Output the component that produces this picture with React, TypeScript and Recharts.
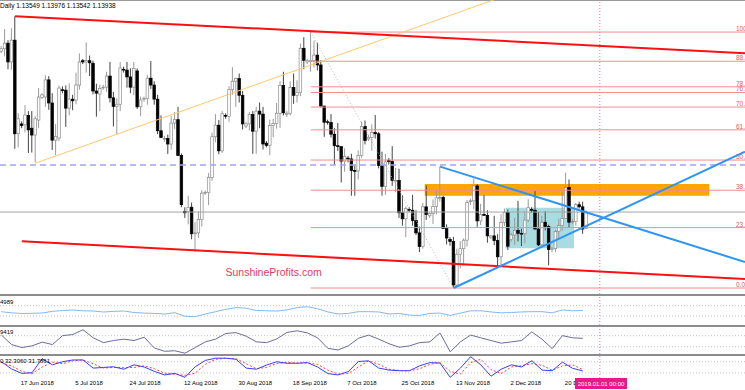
import React from 'react';
import { ComposedChart, LineChart, Line, Bar, XAxis, YAxis, ReferenceLine, ReferenceArea } from 'recharts';

// daily EURUSD bars, 8 Jun 2018 .. 27 Dec 2018 (sunday bars included), bar index = position in arrays
const opens = [
  1.1775, 1.1770, 1.1776, 1.1789, 1.1745, 1.1796, 1.1577, 1.1600, 1.1598, 1.1620, 1.1590, 1.1574, 1.1609, 1.1662, 1.1663, 1.1703,
  1.1649, 1.1562, 1.1567, 1.1680, 1.1679, 1.1637, 1.1658, 1.1656, 1.1691, 1.1748, 1.1745, 1.1748, 1.1742, 1.1677, 1.1670, 1.1686,
  1.1686, 1.1712, 1.1661, 1.1641, 1.1646, 1.1728, 1.1726, 1.1710, 1.1686, 1.1724, 1.1640, 1.1658, 1.1660, 1.1707, 1.1691, 1.1658,
  1.1584, 1.1565, 1.1566, 1.1553, 1.1602, 1.1610, 1.1526, 1.1395, 1.1395, 1.1405, 1.1343, 1.1345, 1.1376, 1.1440, 1.1440, 1.1475,
  1.1570, 1.1597, 1.1537, 1.1620, 1.1618, 1.1680, 1.1700, 1.1706, 1.1667, 1.1595, 1.1600, 1.1622, 1.1583, 1.1630, 1.1623, 1.1555,
  1.1550, 1.1596, 1.1601, 1.1625, 1.1690, 1.1622, 1.1625, 1.1685, 1.1667, 1.1674, 1.1777, 1.1745, 1.1748, 1.1748, 1.1761, 1.1738,
  1.1642, 1.1605, 1.1603, 1.1576, 1.1549, 1.1547, 1.1513, 1.1520, 1.1518, 1.1491, 1.1490, 1.1526, 1.1594, 1.1565, 1.1568, 1.1580,
  1.1577, 1.1503, 1.1454, 1.1515, 1.1512, 1.1468, 1.1468, 1.1392, 1.1378, 1.1400, 1.1398, 1.1374, 1.1345, 1.1313, 1.1406, 1.1385,
  1.1390, 1.1407, 1.1427, 1.1428, 1.1355, 1.1330, 1.1325, 1.1223, 1.1295, 1.1308, 1.1328, 1.1418, 1.1420, 1.1455, 1.1373, 1.1388,
  1.1386, 1.1335, 1.1338, 1.1327, 1.1289, 1.1369, 1.1393, 1.1330, 1.1340, 1.1351, 1.1344, 1.1343, 1.1375, 1.1400, 1.1398, 1.1354,
  1.1317, 1.1370, 1.1360, 1.1306, 1.1308, 1.1348, 1.1362, 1.1379, 1.1451, 1.1370, 1.1372, 1.1411, 1.1406, 1.1355,
];
const highs = [
  1.1812, 1.1782, 1.1822, 1.1796, 1.1824, 1.1852, 1.1625, 1.1606, 1.1644, 1.1630, 1.1630, 1.1618, 1.1684, 1.1672, 1.1714, 1.1712,
  1.1672, 1.1600, 1.1690, 1.1688, 1.1690, 1.1695, 1.1668, 1.1720, 1.1765, 1.1752, 1.1791, 1.1760, 1.1748, 1.1694, 1.1692, 1.1692,
  1.1722, 1.1745, 1.1675, 1.1660, 1.1745, 1.1734, 1.1745, 1.1730, 1.1745, 1.1730, 1.1664, 1.1664, 1.1715, 1.1747, 1.1700, 1.1668,
  1.1620, 1.1572, 1.1575, 1.1618, 1.1628, 1.1640, 1.1531, 1.1405, 1.1432, 1.1416, 1.1370, 1.1395, 1.1445, 1.1444, 1.1485, 1.1580,
  1.1623, 1.1609, 1.1630, 1.1625, 1.1688, 1.1733, 1.1708, 1.1718, 1.1677, 1.1605, 1.1628, 1.1630, 1.1640, 1.1650, 1.1640, 1.1560,
  1.1610, 1.1612, 1.1649, 1.1700, 1.1722, 1.1630, 1.1700, 1.1718, 1.1702, 1.1788, 1.1803, 1.1752, 1.1815, 1.1795, 1.1790, 1.1749,
  1.1642, 1.1610, 1.1623, 1.1590, 1.1602, 1.1546, 1.1543, 1.1525, 1.1530, 1.1504, 1.1538, 1.1605, 1.1608, 1.1575, 1.1599, 1.1621,
  1.1581, 1.1535, 1.1530, 1.1520, 1.1548, 1.1497, 1.1495, 1.1433, 1.1407, 1.1405, 1.1434, 1.1398, 1.1360, 1.1415, 1.1456, 1.1392,
  1.1423, 1.1443, 1.1500, 1.1432, 1.1365, 1.1335, 1.1336, 1.1308, 1.1326, 1.1332, 1.1422, 1.1425, 1.1472, 1.1459, 1.1413, 1.1433,
  1.1398, 1.1340, 1.1385, 1.1342, 1.1389, 1.1402, 1.1400, 1.1345, 1.1380, 1.1420, 1.1355, 1.1396, 1.1424, 1.1405, 1.1443, 1.1394,
  1.1385, 1.1396, 1.1364, 1.1312, 1.1352, 1.1378, 1.1439, 1.1486, 1.1470, 1.1378, 1.1415, 1.1418, 1.1418, 1.1398,
];
const lows = [
  1.1730, 1.1766, 1.1758, 1.1728, 1.1727, 1.1542, 1.1545, 1.1590, 1.1580, 1.1532, 1.1533, 1.1510, 1.1590, 1.1658, 1.1640, 1.1633,
  1.1539, 1.1527, 1.1560, 1.1672, 1.1593, 1.1620, 1.1632, 1.1646, 1.1680, 1.1740, 1.1720, 1.1712, 1.1669, 1.1617, 1.1630, 1.1680,
  1.1675, 1.1650, 1.1594, 1.1575, 1.1630, 1.1720, 1.1685, 1.1672, 1.1667, 1.1635, 1.1618, 1.1652, 1.1645, 1.1682, 1.1645, 1.1576,
  1.1567, 1.1558, 1.1530, 1.1540, 1.1588, 1.1525, 1.1405, 1.1380, 1.1365, 1.1330, 1.1301, 1.1333, 1.1360, 1.1434, 1.1410, 1.1467,
  1.1557, 1.1529, 1.1532, 1.1612, 1.1605, 1.1668, 1.1640, 1.1650, 1.1587, 1.1590, 1.1585, 1.1530, 1.1530, 1.1590, 1.1540, 1.1545,
  1.1527, 1.1569, 1.1589, 1.1591, 1.1620, 1.1616, 1.1620, 1.1647, 1.1650, 1.1665, 1.1728, 1.1740, 1.1722, 1.1732, 1.1725, 1.1639,
  1.1570, 1.1598, 1.1568, 1.1505, 1.1537, 1.1463, 1.1488, 1.1510, 1.1432, 1.1432, 1.1470, 1.1520, 1.1552, 1.1560, 1.1537, 1.1566,
  1.1496, 1.1432, 1.1434, 1.1505, 1.1455, 1.1440, 1.1380, 1.1362, 1.1335, 1.1393, 1.1362, 1.1340, 1.1300, 1.1308, 1.1375, 1.1380,
  1.1366, 1.1388, 1.1418, 1.1355, 1.1318, 1.1315, 1.1216, 1.1220, 1.1262, 1.1269, 1.1313, 1.1410, 1.1400, 1.1359, 1.1363, 1.1385,
  1.1322, 1.1330, 1.1316, 1.1267, 1.1268, 1.1361, 1.1305, 1.1325, 1.1317, 1.1325, 1.1314, 1.1321, 1.1370, 1.1392, 1.1353, 1.1314,
  1.1310, 1.1351, 1.1269, 1.1300, 1.1300, 1.1330, 1.1350, 1.1378, 1.1357, 1.1365, 1.1362, 1.1402, 1.1343, 1.1354,
];
const closes = [
  1.1770, 1.1776, 1.1789, 1.1745, 1.1796, 1.1577, 1.1612, 1.1596, 1.1621, 1.1586, 1.1574, 1.1612, 1.1663, 1.1668, 1.1703, 1.1649,
  1.1562, 1.1571, 1.1684, 1.1678, 1.1637, 1.1658, 1.1654, 1.1691, 1.1745, 1.1745, 1.1748, 1.1743, 1.1677, 1.1672, 1.1683, 1.1686,
  1.1712, 1.1661, 1.1641, 1.1646, 1.1731, 1.1726, 1.1710, 1.1686, 1.1730, 1.1640, 1.1656, 1.1660, 1.1707, 1.1691, 1.1658, 1.1584,
  1.1568, 1.1566, 1.1553, 1.1602, 1.1610, 1.1526, 1.1411, 1.1392, 1.1405, 1.1343, 1.1345, 1.1376, 1.1438, 1.1440, 1.1475, 1.1570,
  1.1597, 1.1537, 1.1624, 1.1618, 1.1680, 1.1700, 1.1706, 1.1667, 1.1600, 1.1600, 1.1622, 1.1583, 1.1630, 1.1623, 1.1553, 1.1550,
  1.1596, 1.1601, 1.1625, 1.1690, 1.1626, 1.1625, 1.1685, 1.1667, 1.1674, 1.1777, 1.1749, 1.1748, 1.1748, 1.1761, 1.1738, 1.1642,
  1.1604, 1.1603, 1.1576, 1.1549, 1.1547, 1.1513, 1.1524, 1.1518, 1.1491, 1.1490, 1.1526, 1.1594, 1.1561, 1.1568, 1.1580, 1.1577,
  1.1503, 1.1454, 1.1511, 1.1512, 1.1468, 1.1468, 1.1392, 1.1378, 1.1402, 1.1398, 1.1374, 1.1345, 1.1313, 1.1406, 1.1388, 1.1390,
  1.1407, 1.1427, 1.1428, 1.1355, 1.1333, 1.1325, 1.1223, 1.1295, 1.1308, 1.1328, 1.1416, 1.1420, 1.1455, 1.1373, 1.1388, 1.1386,
  1.1338, 1.1338, 1.1327, 1.1289, 1.1369, 1.1393, 1.1314, 1.1340, 1.1351, 1.1344, 1.1343, 1.1375, 1.1404, 1.1398, 1.1354, 1.1317,
  1.1370, 1.1360, 1.1306, 1.1308, 1.1348, 1.1362, 1.1379, 1.1451, 1.1370, 1.1372, 1.1411, 1.1406, 1.1354, 1.1394,
];

// date labels on the time axis
const tickBars = [7, 23, 39, 55, 71, 87, 103, 119, 135, 151, 167];
const tickLabels = ['17 Jun 2018', '5 Jul 2018', '24 Jul 2018', '12 Aug 2018', '30 Aug 2018', '18 Sep 2018', '7 Oct 2018', '25 Oct 2018', '13 Nov 2018', '2 Dec 2018', '20 Dec 2018'];
const newYearBar = 177;

// fibonacci retracement: 24 Sep high -> 12 Nov low
const fibHigh = { bar: 92, price: 1.1815 };
const fibLow = { bar: 134, price: 1.1216 };
const fibRatios = [0, 23.6, 38.2, 50.0, 61.8, 70.7, 76.4, 78.6, 88.6, 100.0];

// drawn trend lines [start, end] as (bar, price)
const channelTop = [{ bar: 5, price: 1.1852 }, { bar: 219.7, price: 1.17653 }];
const channelBottom = [{ bar: 7, price: 1.13254 }, { bar: 219.7, price: 1.12371 }];
const orangeTrend = [{ bar: 11, price: 1.1508 }, { bar: 219.7, price: 1.21 }];
const blueDown = [{ bar: 130, price: 1.15 }, { bar: 219.7, price: 1.12769 }];
const blueUp = [{ bar: 134, price: 1.1216 }, { bar: 219.7, price: 1.1535 }];
const dashedLevel = 1.15039;
const bidPrice = 1.13938;
const resistanceZone = { x1: 125.5, x2: 209.2, y1: 1.14321, y2: 1.14594 };
const consolidationZone = { x1: 149.3, x2: 169.4, y1: 1.1309, y2: 1.1404 };

// oscillators, sampled every third bar (values on each pane's 0-100 scale)
const sampleBars = [1, 4, 7, 10, 13, 16, 19, 22, 25, 28, 31, 34, 37, 40, 43, 46, 49, 52, 55, 58, 61, 64, 67, 70, 73, 76, 79, 82, 85, 88, 91, 94, 97, 100, 103, 106, 109, 112, 115, 118, 121, 124, 127, 130, 133, 136, 139, 142, 145, 148, 151, 154, 157, 160, 163, 166, 169, 172];
const rsiValues = [45.9, 42, 39.7, 40.3, 41.4, 47, 50, 51.7, 49, 48.3, 44.8, 47, 48.3, 43, 41, 40, 37.9, 42.4, 30, 28.6, 38, 46, 54, 60, 58, 50, 49, 48, 52, 60, 63, 56, 45, 38, 40, 46, 46, 45, 38, 40, 34, 33, 40, 41, 33, 41, 49, 49, 45, 42, 43, 45, 46, 46, 42, 52, 49, 50];
const cciValues = [70, 35, 24, 30, 44, 35, 68, 72, 90, 60, 42, 50, 55, 50, 62, 22, 10, 12, 3, 24, 45, 55, 76, 79, 66, 45, 42, 56, 80, 86, 78, 60, 21, 15, 30, 58, 70, 55, 38, 25, 30, 42, 45, 78, 8, 45, 70, 60, 50, 40, 45, 50, 82, 55, 20, 68, 60, 58];
const stochMain = [74, 41, 21, 24, 88, 60, 74, 82, 82, 45, 48, 51, 40, 60, 50, 30, 14, 21, 3, 51, 80, 90, 90, 85, 45, 40, 59, 74, 67, 67, 70, 50, 20, 14, 29, 75, 78, 45, 36, 33, 33, 55, 70, 68, 3, 45, 97, 60, 8, 40, 60, 50, 79, 36, 33, 72, 44, 32];
const stochSignal = [70, 55, 30, 20, 50, 72, 65, 78, 82, 65, 45, 48, 47, 48, 55, 42, 22, 17, 12, 22, 62, 85, 90, 88, 65, 42, 48, 66, 70, 68, 68, 62, 36, 18, 20, 50, 78, 62, 40, 34, 33, 42, 62, 70, 30, 18, 70, 85, 38, 20, 50, 56, 65, 58, 35, 55, 60, 38];

const W = 745;
const X_DOMAIN: [number, number] = [0.59, 219.7];
const PRICE_DOMAIN: [number, number] = [1.1202, 1.189];
const FONT = '"Liberation Sans", Arial, sans-serif';
const NO_MARGIN = { top: 0, right: 0, bottom: 0, left: 0 };

const candles = opens.map((o, i) => ({ i, open: o, high: highs[i], low: lows[i], close: closes[i] }));
const oscRows = sampleBars.map((b, k) => ({ i: b, rsi: rsiValues[k], cci: cciValues[k], main: stochMain[k], signal: stochSignal[k] }));

function Candle(props: any) {
  const { x, y, width, height, payload } = props;
  if (!payload || x == null) return null;
  const top = Math.min(y, y + height);
  const h = Math.abs(height);
  const span = payload.high - payload.low;
  const toY = (p: number) => (span > 0 ? top + ((payload.high - p) / span) * h : top);
  const cx = x + width / 2;
  const up = payload.close >= payload.open;
  const bTop = toY(Math.max(payload.open, payload.close));
  const bBot = toY(Math.min(payload.open, payload.close));
  return (
    <g>
      <line x1={cx} x2={cx} y1={top} y2={top + Math.max(h, 1)} stroke={up ? '#9a9a9a' : '#444'} strokeWidth={1} />
      <rect x={cx - 1.3} y={bTop} width={2.6} height={Math.max(bBot - bTop, 0.8)} fill={up ? '#fff' : '#000'} stroke={up ? '#8a8a8a' : '#000'} strokeWidth={0.7} />
    </g>
  );
}

function FibLabel(props: any) {
  const vb = props.viewBox || {};
  const right = (vb.x || 0) + (vb.width || 0);
  return (
    <text x={right - 9} y={(vb.y || 0) - 1} fontSize={6.5} fill="#e06060" fontFamily={FONT}>
      {props.text}
    </text>
  );
}

function DateTick(props: any) {
  const { x, y, payload } = props;
  const idx = tickBars.indexOf(payload.value);
  return (
    <text x={x - 1} y={y + 6.5} fontSize={6} fill="#000" fontFamily={FONT}>
      {idx >= 0 ? tickLabels[idx] : ''}
    </text>
  );
}

function seg(line: { bar: number; price: number }[]) {
  return line.map((p) => ({ x: p.bar, y: p.price })) as any;
}

const pane = (top: number, height: number): React.CSSProperties => ({ position: 'absolute', left: 0, top, width: W, height });
const separator = (top: number): React.CSSProperties => ({ position: 'absolute', left: 0, top, width: W, height: 2, background: '#8c8c8c' });

export default function App() {
  const range = fibHigh.price - fibLow.price;
  return (
    <div style={{ position: 'absolute', left: 0, top: 0, width: W, height: 390, background: '#fff', overflow: 'hidden', fontFamily: FONT }}>
      <div style={{ position: 'absolute', left: 0, top: 0, width: W, height: 1, background: '#9a9a9a' }} />

      <div style={pane(0, 294)}>
        <ComposedChart width={W} height={294} data={candles} margin={NO_MARGIN}>
          <XAxis type="number" dataKey="i" domain={X_DOMAIN} allowDataOverflow hide />
          <YAxis type="number" domain={PRICE_DOMAIN} allowDataOverflow hide />
          <ReferenceArea {...consolidationZone} fill="#a9dce1" fillOpacity={1} stroke="none" ifOverflow="hidden" />
          <ReferenceArea {...resistanceZone} fill="#ffa500" fillOpacity={1} stroke="none" ifOverflow="hidden" />
          {fibRatios.map((r) => {
            const level = fibLow.price + (r / 100) * range;
            return (
              <ReferenceLine
                key={r}
                segment={[{ x: fibHigh.bar, y: level }, { x: X_DOMAIN[1], y: level }]}
                stroke="#f28c8c"
                strokeWidth={1}
                ifOverflow="hidden"
                label={<FibLabel text={r.toFixed(1)} />}
              />
            );
          })}
          <ReferenceLine y={bidPrice} stroke="#a6a6a6" strokeWidth={1} ifOverflow="hidden" />
          <ReferenceLine y={dashedLevel} stroke="#a3a3f2" strokeWidth={1.5} strokeDasharray="6 4" ifOverflow="hidden" />
          <ReferenceLine x={newYearBar} stroke="#e070c8" strokeDasharray="1 2" ifOverflow="hidden" />
          <ReferenceLine segment={[{ x: fibHigh.bar, y: fibHigh.price }, { x: fibLow.bar, y: fibLow.price }]} stroke="#b8b8b8" strokeDasharray="1 2" ifOverflow="hidden" />
          <Bar dataKey={(d: any) => [d.low, d.high]} barSize={3} shape={(p: any) => <Candle {...p} />} isAnimationActive={false} />
          <ReferenceLine segment={seg(orangeTrend)} stroke="#ffc870" strokeWidth={1} ifOverflow="hidden" />
          <ReferenceLine segment={seg(channelTop)} stroke="#ff1010" strokeWidth={2} ifOverflow="hidden" />
          <ReferenceLine segment={seg(channelBottom)} stroke="#ff1010" strokeWidth={2} ifOverflow="hidden" />
          <ReferenceLine segment={seg(blueDown)} stroke="#2f95f5" strokeWidth={2} ifOverflow="hidden" />
          <ReferenceLine segment={seg(blueUp)} stroke="#2f95f5" strokeWidth={2} ifOverflow="hidden" />
        </ComposedChart>
      </div>

      <div style={separator(294)} />
      <div style={pane(296, 29)}>
        <LineChart width={W} height={29} data={oscRows} margin={NO_MARGIN}>
          <XAxis type="number" dataKey="i" domain={X_DOMAIN} allowDataOverflow hide />
          <YAxis type="number" domain={[0, 100]} allowDataOverflow hide />
          <ReferenceLine y={66.6} stroke="#c4c4c4" strokeDasharray="1 2" />
          <ReferenceLine y={31} stroke="#c4c4c4" strokeDasharray="1 2" />
          <ReferenceLine x={newYearBar} stroke="#e070c8" strokeDasharray="1 2" />
          <Line dataKey="rsi" stroke="#80b9f2" strokeWidth={1} dot={false} isAnimationActive={false} />
        </LineChart>
      </div>

      <div style={separator(325)} />
      <div style={pane(327, 27)}>
        <LineChart width={W} height={27} data={oscRows} margin={NO_MARGIN}>
          <XAxis type="number" dataKey="i" domain={X_DOMAIN} allowDataOverflow hide />
          <YAxis type="number" domain={[0, 100]} allowDataOverflow hide />
          <ReferenceLine y={67.8} stroke="#c4c4c4" strokeDasharray="1 2" />
          <ReferenceLine y={27} stroke="#c4c4c4" strokeDasharray="1 2" />
          <ReferenceLine x={newYearBar} stroke="#e070c8" strokeDasharray="1 2" />
          <Line dataKey="cci" stroke="#6c6ca0" strokeWidth={1} dot={false} isAnimationActive={false} />
        </LineChart>
      </div>

      <div style={separator(354)} />
      <div style={pane(356, 34)}>
        <LineChart width={W} height={34} data={oscRows} margin={NO_MARGIN}>
          <XAxis
            type="number"
            dataKey="i"
            domain={X_DOMAIN}
            allowDataOverflow
            ticks={tickBars}
            interval={0}
            axisLine={false}
            tickLine={false}
            tickSize={0}
            tickMargin={0}
            height={12}
            tick={<DateTick />}
          />
          <YAxis type="number" domain={[0, 100]} allowDataOverflow hide />
          <ReferenceLine y={74} stroke="#c4c4c4" strokeDasharray="1 2" />
          <ReferenceLine y={23} stroke="#c4c4c4" strokeDasharray="1 2" />
          <ReferenceLine x={newYearBar} stroke="#e070c8" strokeDasharray="1 2" />
          <Line dataKey="signal" stroke="#ff4040" strokeWidth={1} strokeDasharray="2 2" dot={false} isAnimationActive={false} />
          <Line dataKey="main" stroke="#3c3cff" strokeWidth={1} dot={false} isAnimationActive={false} />
        </LineChart>
      </div>

      <svg width={W} height={390} style={{ position: 'absolute', left: 0, top: 0, pointerEvents: 'none' }}>
        <text x={0} y={8} fontSize={6.5} fill="#000" fontFamily={FONT}>Daily  1.13549 1.13976 1.13542 1.13938</text>
        <text x={225.5} y={276} fontSize={10.5} fill="#e33b5f" fontFamily={FONT}>SunshineProfits.com</text>
        <text x={0} y={304} fontSize={6} fill="#000" fontFamily={FONT}>4989</text>
        <text x={0} y={334} fontSize={6} fill="#000" fontFamily={FONT}>9419</text>
        <text x={0} y={363} fontSize={6} fill="#000" fontFamily={FONT}>0 32.3060 31.7861</text>
        <rect x={575} y={378} width={52} height={11} fill="#e8198b" />
        <text x={601} y={386} fontSize={6} fill="#fff" textAnchor="middle" fontFamily={FONT}>2019.01.01 00:00</text>
      </svg>
    </div>
  );
}
